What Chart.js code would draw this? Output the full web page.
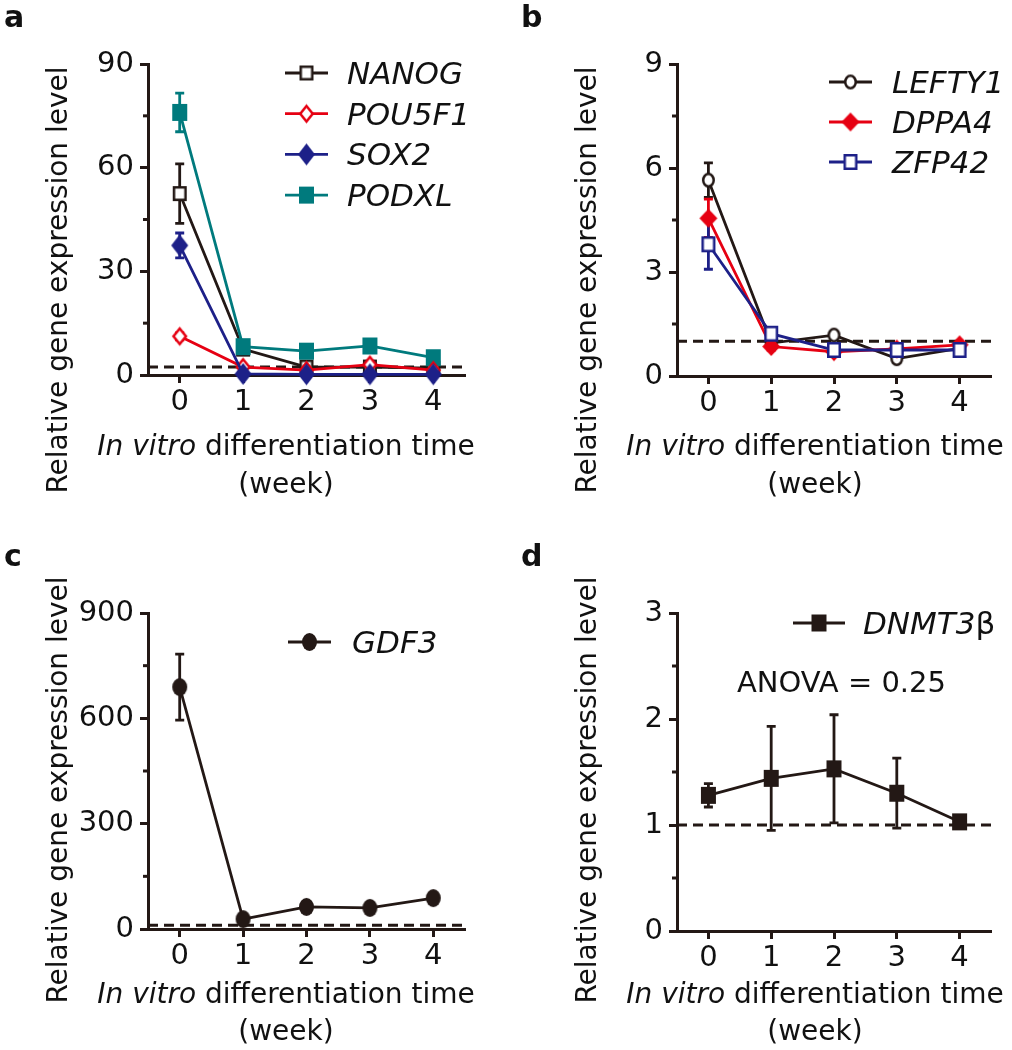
<!DOCTYPE html>
<html>
<head>
<meta charset="utf-8">
<script src="https://cdn.jsdelivr.net/npm/chart.js@4.4.0/dist/chart.umd.min.js"></script>
<style>
  html, body { margin: 0; padding: 0; background: #fff; }
  #wrap { position: relative; width: 1012px; height: 1050px; }
  #wrap canvas { position: absolute; left: 0; top: 0; width: 1012px; height: 1050px; }
</style>
</head>
<body>
<div id="wrap">
  <canvas id="panelA" width="1012" height="1050"></canvas>
  <canvas id="panelB" width="1012" height="1050"></canvas>
  <canvas id="panelC" width="1012" height="1050"></canvas>
  <canvas id="panelD" width="1012" height="1050"></canvas>
</div>
<script>
// ---- data ----
var weeks = [0, 1, 2, 3, 4];
var weekLabels = ['0', '1', '2', '3', '4'];

// a
var nanog     = [52.5, 7.5, 2.3, 2.3, 2.0];
var nanogErr  = [8.6, 0.8, 0.3, 0.3, 0.3];
var pou5f1    = [11.2, 2.3, 1.4, 3.0, 1.4];
var pou5f1Err = [1.0, 0.4, 0.2, 0.4, 0.2];
var sox2      = [37.5, 0.3, 0.2, 0.2, 0.2];
var sox2Err   = [3.6, 0.1, 0.1, 0.1, 0.1];
var podxl     = [76.0, 8.2, 6.9, 8.4, 5.0];
var podxlErr  = [5.6, 1.2, 0.8, 0.8, 0.8];
var refA = 2.3;
var yTicksA = [0, 30, 60, 90];

// b
var lefty1    = [5.65, 0.95, 1.18, 0.5, 0.8];
var lefty1Err = [0.5, 0.12, 0.08, 0.1, 0.08];
var dppa4     = [4.55, 0.85, 0.7, 0.78, 0.9];
var dppa4Err  = [0.55, 0.1, 0.1, 0.1, 0.08];
var zfp42     = [3.8, 1.22, 0.75, 0.75, 0.75];
var zfp42Err  = [0.72, 0.12, 0.15, 0.1, 0.1];
var refB = 1;
var yTicksB = [0, 3, 6, 9];

// c
var gdf3    = [689, 28, 63, 60, 88];
var gdf3Err = [94, 6, 6, 6, 6];
var refC = 11;
var yTicksC = [0, 300, 600, 900];

// d
var dnmt3b    = [1.28, 1.44, 1.53, 1.30, 1.03];
var dnmt3bErr = [0.11, 0.49, 0.51, 0.33, 0.05];
var refD = 1;
var yTicksD = [0, 1, 2, 3];
var anovaText = 'ANOVA = 0.25';

var yTitle = 'Relative gene expression level';
var xTitle = [['In vitro', true], [' differentiation time', false]];
var xUnit = '(week)';

// ---- styling ----
var INK = '#231815', TEXT = '#111', RED = '#e60012', NAVY = '#1d2088', TEAL = '#007a7d';
var FONT = '"DejaVu Sans", sans-serif';

function markerCanvas(shape, color, open, w, h) {
  var lw = 2.5;
  var c = document.createElement('canvas');
  c.width = Math.ceil(w) + 4; c.height = Math.ceil(h) + 4;
  var g = c.getContext('2d');
  var cx = c.width / 2, cy = c.height / 2, hw = w / 2, hh = h / 2;
  if (open) { hw -= lw / 2; hh -= lw / 2; }
  g.beginPath();
  if (shape === 'square') g.rect(cx - hw, cy - hh, 2 * hw, 2 * hh);
  else if (shape === 'diamond') {
    g.moveTo(cx, cy - hh); g.lineTo(cx + hw, cy); g.lineTo(cx, cy + hh); g.lineTo(cx - hw, cy); g.closePath();
  } else g.ellipse(cx, cy, hw, hh, 0, 0, Math.PI * 2);
  g.fillStyle = open ? '#fff' : color;
  g.fill();
  if (open) { g.lineWidth = lw; g.strokeStyle = color; g.lineJoin = 'miter'; g.stroke(); }
  return c;
}

function gene(label, vals, errs, color, marker, order) {
  return {
    label: label,
    data: weeks.map(function (w, i) { return { x: w, y: vals[i] }; }),
    errors: errs,
    borderColor: color, backgroundColor: color, borderWidth: 2.8,
    pointStyle: marker, pointRadius: 8, marker: marker,
    clip: false, order: order, tension: 0
  };
}

function refLine(level) {
  return {
    label: '_ref', data: [{ x: -0.5, y: level }, { x: 4.5, y: level }],
    borderColor: INK, borderWidth: 3, borderDash: [10, 6], pointRadius: 0,
    clip: false, order: 50
  };
}

// short ticks halfway between the labelled ones
var minorTicks = {
  id: 'minorTicks',
  afterDraw: function (chart) {
    var ys = chart.scales.y, ctx = chart.ctx, x = chart.chartArea.left;
    ctx.save();
    ctx.strokeStyle = INK; ctx.lineWidth = 3;
    for (var i = 0; i < ys.ticks.length - 1; i++) {
      var y = ys.getPixelForValue((ys.ticks[i].value + ys.ticks[i + 1].value) / 2);
      ctx.beginPath(); ctx.moveTo(x - 5, y); ctx.lineTo(x, y); ctx.stroke();
    }
    ctx.restore();
  }
};

var errorBars = {
  id: 'errorBars',
  beforeDatasetsDraw: function (chart) {
    var ctx = chart.ctx, xs = chart.scales.x, ys = chart.scales.y;
    ctx.save();
    chart.data.datasets.forEach(function (ds) {
      if (!ds.errors) return;
      ctx.strokeStyle = ds.borderColor; ctx.lineWidth = 2.8;
      ds.data.forEach(function (p, j) {
        var e = ds.errors[j];
        var x = xs.getPixelForValue(p.x);
        var y1 = ys.getPixelForValue(p.y + e), y2 = ys.getPixelForValue(p.y - e);
        ctx.beginPath();
        ctx.moveTo(x, y1); ctx.lineTo(x, y2);
        ctx.moveTo(x - 4.5, y1); ctx.lineTo(x + 4.5, y1);
        ctx.moveTo(x - 4.5, y2); ctx.lineTo(x + 4.5, y2);
        ctx.stroke();
      });
    });
    ctx.restore();
  }
};

function richText(ctx, parts, cx, y, size) {
  var total = 0;
  parts.forEach(function (p) {
    ctx.font = (p[1] ? 'italic ' : '') + size + 'px ' + FONT;
    total += ctx.measureText(p[0]).width;
  });
  var x = cx - total / 2;
  ctx.textAlign = 'left';
  parts.forEach(function (p) {
    ctx.font = (p[1] ? 'italic ' : '') + size + 'px ' + FONT;
    ctx.fillText(p[0], x, y);
    x += ctx.measureText(p[0]).width;
  });
}

function textLayer(d) {
  return {
    id: 'textLayer',
    afterDraw: function (chart) {
      var ctx = chart.ctx;
      ctx.save();
      ctx.fillStyle = TEXT;
      ctx.textBaseline = 'alphabetic';
      // panel letter
      ctx.font = 'bold 30px ' + FONT; ctx.textAlign = 'left';
      ctx.fillText(d.letter, d.letterAt[0], d.letterAt[1]);
      // y title
      ctx.save();
      ctx.translate(d.yTitleAt[0], d.yTitleAt[1]); ctx.rotate(-Math.PI / 2);
      ctx.font = '28px ' + FONT; ctx.textAlign = 'center';
      ctx.fillText(yTitle, 0, 0);
      ctx.restore();
      // x title
      richText(ctx, xTitle, d.xTitleAt[0], d.xTitleAt[1], 28);
      ctx.font = '28px ' + FONT; ctx.textAlign = 'center';
      ctx.fillText(xUnit, d.xTitleAt[0], d.xTitleAt[2]);
      // legend
      var lg = d.legend, row = 0;
      chart.data.datasets.forEach(function (ds) {
        if (ds.label.charAt(0) === '_') return;
        var y = lg.y + row * lg.dy;
        ctx.strokeStyle = ds.borderColor; ctx.lineWidth = 2.8;
        ctx.beginPath(); ctx.moveTo(lg.x0, y); ctx.lineTo(lg.x1, y); ctx.stroke();
        var m = ds.marker;
        ctx.drawImage(m, (lg.x0 + lg.x1) / 2 - m.width / 2, y - m.height / 2);
        ctx.fillStyle = TEXT;
        var name = ds.label, greek = name.search(/[\u0370-\u03ff]/);
        var parts = greek < 0 ? [[name, true]] : [[name.slice(0, greek), true], [name.slice(greek), false]];
        var x = lg.tx;
        ctx.textAlign = 'left';
        parts.forEach(function (p) {
          ctx.font = (p[1] ? 'italic ' : '') + '31px ' + FONT;
          ctx.fillText(p[0], x, y + 11);
          x += ctx.measureText(p[0]).width;
        });
        row++;
      });
      if (d.note) {
        ctx.font = '29px ' + FONT; ctx.textAlign = 'left';
        ctx.fillText(d.note[0], d.note[1], d.note[2]);
      }
      ctx.restore();
    }
  };
}

function makePanel(id, box, yTicks, sets, level, deco) {
  var datasets = sets.concat([refLine(level)]);
  new Chart(document.getElementById(id), {
    type: 'line',
    data: { datasets: datasets },
    options: {
      responsive: false, animation: false, events: [], devicePixelRatio: 1,
      layout: { padding: { left: box.l - 70, right: 1012 - box.r, top: box.t, bottom: 1050 - box.b - 50 } },
      scales: {
        x: {
          type: 'linear', min: -0.5, max: 4.5,
          afterBuildTicks: function (s) { s.ticks = weeks.map(function (w) { return { value: w }; }); },
          afterFit: function (s) { s.height = 50; },
          grid: { drawOnChartArea: false, drawTicks: true, tickLength: 8, tickWidth: 3, tickColor: INK },
          border: { display: true, width: 3, color: INK },
          ticks: {
            autoSkip: false, maxRotation: 0, padding: 2, color: TEXT,
            font: { family: FONT, size: 29 },
            callback: function (v) { return weekLabels[weeks.indexOf(v)]; }
          }
        },
        y: {
          type: 'linear', min: yTicks[0], max: yTicks[yTicks.length - 1],
          afterBuildTicks: function (s) { s.ticks = yTicks.map(function (v) { return { value: v }; }); },
          afterFit: function (s) { s.width = 70; },
          grid: { drawOnChartArea: false, drawTicks: true, tickLength: 8, tickWidth: 3, tickColor: INK },
          border: { display: true, width: 3, color: INK },
          ticks: {
            autoSkip: false, padding: 6, color: TEXT,
            font: { family: FONT, size: 29 },
            callback: function (v) { return String(v); }
          }
        }
      },
      plugins: { legend: { display: false }, tooltip: { enabled: false }, title: { display: false } }
    },
    plugins: [errorBars, minorTicks, textLayer(deco)]
  });
}

makePanel('panelA', { l: 148, r: 465, t: 64, b: 375 }, yTicksA, [
  gene('NANOG', nanog, nanogErr, INK, markerCanvas('square', INK, true, 14, 15), 3),
  gene('POU5F1', pou5f1, pou5f1Err, RED, markerCanvas('diamond', RED, true, 15, 18), 1),
  gene('SOX2', sox2, sox2Err, NAVY, markerCanvas('diamond', NAVY, false, 17, 22), 0),
  gene('PODXL', podxl, podxlErr, TEAL, markerCanvas('square', TEAL, false, 15, 17), 2)
], refA, {
  letter: 'a', letterAt: [4, 27], yTitleAt: [67, 280], xTitleAt: [286, 455, 493],
  legend: { x0: 285, x1: 328, tx: 347, y: 73, dy: 40.7 }
});

makePanel('panelB', { l: 677, r: 991, t: 64, b: 376 }, yTicksB, [
  gene('LEFTY1', lefty1, lefty1Err, INK, markerCanvas('circle', INK, true, 13, 15), 2),
  gene('DPPA4', dppa4, dppa4Err, RED, markerCanvas('diamond', RED, false, 18, 19), 1),
  gene('ZFP42', zfp42, zfp42Err, NAVY, markerCanvas('square', NAVY, true, 14, 16), 0)
], refB, {
  letter: 'b', letterAt: [521, 27], yTitleAt: [596, 280], xTitleAt: [815, 455, 493],
  legend: { x0: 829, x1: 872, tx: 892, y: 82, dy: 40 }
});

makePanel('panelC', { l: 148, r: 465, t: 613, b: 929 }, yTicksC, [
  gene('GDF3', gdf3, gdf3Err, INK, markerCanvas('circle', INK, false, 15, 18), 0)
], refC, {
  letter: 'c', letterAt: [4, 566], yTitleAt: [67, 790], xTitleAt: [286, 1003, 1040],
  legend: { x0: 288, x1: 331, tx: 352, y: 642, dy: 40 }
});

makePanel('panelD', { l: 677, r: 991, t: 613, b: 931 }, yTicksD, [
  gene('DNMT3\u03b2', dnmt3b, dnmt3bErr, INK, markerCanvas('square', INK, false, 15, 17), 0)
], refD, {
  letter: 'd', letterAt: [521, 566], yTitleAt: [596, 790], xTitleAt: [815, 1003, 1040],
  legend: { x0: 793, x1: 845, tx: 863, y: 623, dy: 40 },
  note: [anovaText, 737, 692]
});
</script>
</body>
</html>
